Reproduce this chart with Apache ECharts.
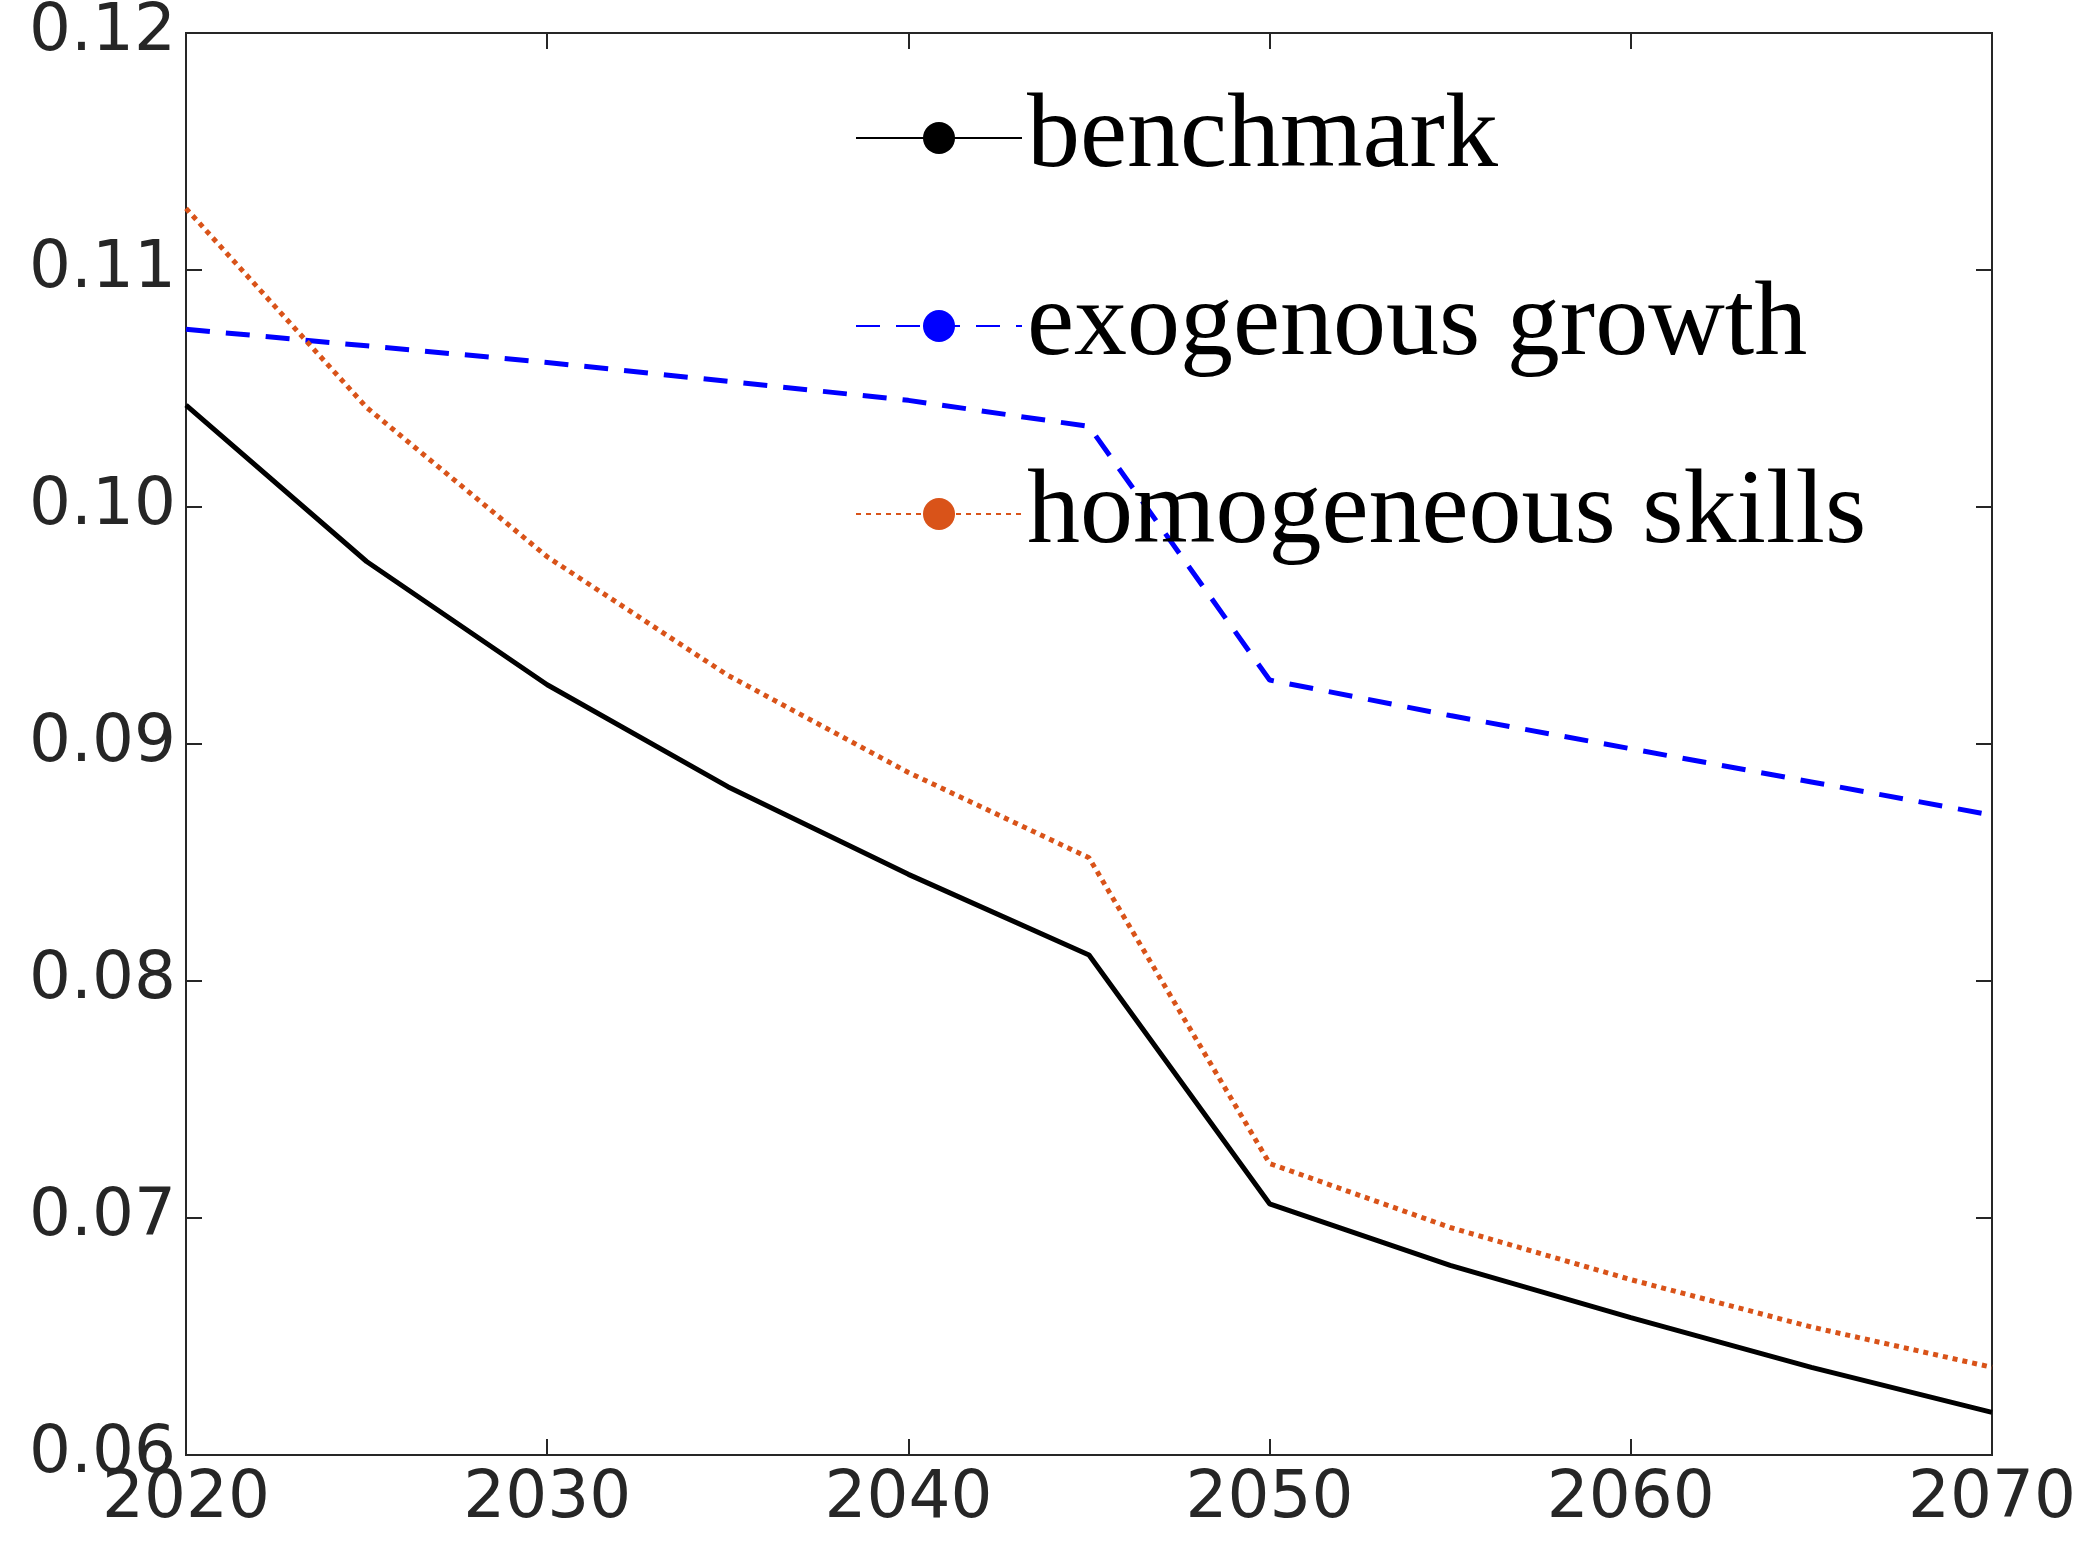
<!DOCTYPE html>
<html>
<head>
<meta charset="utf-8">
<script src="https://cdn.jsdelivr.net/npm/echarts@6/dist/echarts.min.js"></script>
<style>html,body{margin:0;padding:0;background:#fff}#chart{width:2082px;height:1554px}</style>
</head>
<body>
<div id="chart"></div>
<script>
var years = [2020, 2025, 2030, 2035, 2040, 2045, 2050, 2055, 2060, 2065, 2070];
var benchmark = [0.1043, 0.0977, 0.0925, 0.0882, 0.0845, 0.0811, 0.0706, 0.0680, 0.0658, 0.0637, 0.0618];
var exogenous = [0.1075, 0.1068, 0.1061, 0.1053, 0.1045, 0.1034, 0.0927, 0.0912, 0.0898, 0.0884, 0.0870];
var homogeneous = [0.1126, 0.1042, 0.0979, 0.0929, 0.0888, 0.0852, 0.0723, 0.0696, 0.0674, 0.0654, 0.0637];

function pairs(v) { return years.map(function (y, i) { return [y, v[i]]; }); }

var myChart = echarts.init(document.getElementById('chart'));
var axisCommon = {
    type: 'value',
    axisLine: { show: true, lineStyle: { color: '#262626', width: 2 } },
    axisTick: { show: true, inside: true, length: 16, lineStyle: { color: '#262626', width: 2 } },
    splitLine: { show: false }
};
var option = {
    animation: false,
    grid: { left: 186, right: 90, top: 29, bottom: 99, show: true, borderColor: '#262626', borderWidth: 2 },
    xAxis: [
        Object.assign({}, axisCommon, { min: 2020, max: 2070, interval: 10, position: 'bottom',
            axisLabel: { fontFamily: 'DejaVu Sans', fontSize: 66, color: '#262626', margin: 12,
                formatter: function (v) { return String(v); } } }),
        Object.assign({}, axisCommon, { min: 2020, max: 2070, interval: 10, position: 'top', axisLabel: { show: false } })
    ],
    yAxis: [
        Object.assign({}, axisCommon, { min: 0.06, max: 0.12, interval: 0.01, position: 'left',
            axisLabel: { fontFamily: 'DejaVu Sans', fontSize: 66, color: '#262626', margin: 10,
                formatter: function (v) { return v.toFixed(2); } } }),
        Object.assign({}, axisCommon, { min: 0.06, max: 0.12, interval: 0.01, position: 'right', axisLabel: { show: false } })
    ],
    legend: {
        orient: 'vertical', left: 850, top: 80,
        itemWidth: 166, itemHeight: 40, itemGap: 82,
        textStyle: { fontFamily: 'Liberation Serif', fontSize: 106, color: '#000' },
        data: ['benchmark', 'exogenous growth', 'homogeneous skills']
    },
    series: [
        { name: 'benchmark', type: 'line', data: pairs(benchmark), symbol: 'none',
          lineStyle: { color: '#000', width: 5, type: 'solid' }, itemStyle: { color: '#000' } },
        { name: 'exogenous growth', type: 'line', data: pairs(exogenous), symbol: 'none',
          lineStyle: { color: '#0000FF', width: 5, type: [24, 16] }, itemStyle: { color: '#0000FF' } },
        { name: 'homogeneous skills', type: 'line', data: pairs(homogeneous), symbol: 'none',
          lineStyle: { color: '#D95319', width: 5, type: [5, 5] }, itemStyle: { color: '#D95319' } }
    ]
};
myChart.setOption(option);
</script>
</body>
</html>
